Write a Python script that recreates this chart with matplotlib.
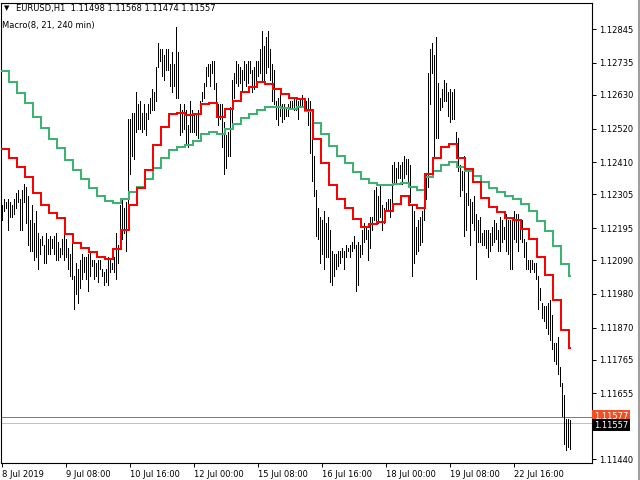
import numpy as np
import matplotlib
matplotlib.use("Agg")
import matplotlib.pyplot as plt
from matplotlib.transforms import blended_transform_factory

# ---------------- data ----------------
symbol = "EURUSD,H1"
last_ohlc = ["1.11498", "1.11568", "1.11474", "1.11557"]
indicator_name = "Macro(8, 21, 240 min)"
base_price = 1.1100          # price = base_price + pips / 10000

# hourly bars (high / low in pips above base_price)
high_pips = [127,129,128,129,128,127,129,131,132,129,132,134,133,130,122,127,121,125,118,116,
             117,114,118,116,117,116,117,118,115,113,116,118,116,113,111,116,104,108,106,109,
             111,110,110,111,112,109,109,108,109,109,106,105,106,110,
             109,108,110,118,114,127,129,126,128,155,155,157,157,164,160,161,157,160,157,160,
             162,165,164,172,180,178,178,176,178,178,173,177,173,185,177,160,158,160,158,153,
             161,158,157,157,158,161,164,167,172,173,
             173,174,174,167,160,160,160,154,150,151,159,168,170,174,173,172,171,174,173,174,
             174,171,172,174,174,178,184,179,182,184,178,173,171,161,162,164,160,160,159,160,
             161,161,162,162,161,162,163,161,161,162,
             161,149,143,132,126,123,122,125,121,123,119,112,111,111,112,112,113,112,114,113,
             114,115,117,114,115,114,119,121,120,119,123,123,132,133,130,134,127,126,128,129,
             129,140,141,139,141,140,141,143,142,142,
             140,127,125,120,122,123,125,136,137,170,178,180,176,182,167,162,165,168,167,164,
             165,164,165,151,149,140,138,143,131,138,129,128,130,124,122,123,118,119,119,119,
             118,120,122,121,119,123,122,120,124,122,122,122,125,124,124,121,122,116,115,109,
             109,109,108,108,104,100,95,94,94,95,96,91,82,82,84,74,69,65,57,57,56.8]
low_pips = [122,125,126,119,123,123,124,126,128,119,119,128,121,114,112,112,109,110,106,111,
            114,108,108,111,111,113,111,109,109,110,111,109,110,106,104,103,93,98,95,100,
            103,105,103,99,104,107,103,104,102,106,104,101,102,101,
            105,106,105,103,108,114,116,118,112,120,137,143,142,151,152,152,151,152,150,155,
            157,158,158,161,172,174,169,168,171,171,166,164,166,162,162,150,151,152,147,146,
            151,151,151,150,149,158,161,162,166,169,
            166,170,165,160,153,155,146,137,139,143,143,152,162,167,166,167,164,168,166,167,
            170,164,165,167,169,170,168,168,170,172,168,161,160,155,153,156,154,155,156,156,
            159,159,158,158,155,159,159,158,158,153,
            144,135,130,117,116,108,111,106,110,110,102,101,104,106,107,108,110,106,110,112,
            110,112,113,99,101,110,111,115,116,109,113,119,122,122,121,123,119,121,125,125,
            123,127,134,134,136,136,134,136,137,135,
            128,104,108,111,112,114,115,122,129,133,160,170,143,149,149,158,159,161,161,156,
            154,155,155,146,138,130,132,117,119,127,114,121,119,103,115,115,114,114,113,110,
            112,114,115,116,112,112,115,116,112,111,106,106,116,115,112,116,115,110,106,106,
            105,106,105,103,93,96,90,89,87,85,83,80,76,75,72,68,58,49,47,48,47.4]

# 240-min step lines (one value per 4 hourly bars)
fast_pips = [145.2,142.3,139.6,136.1,130.9,127.1,124.4,122.9,117.5,114.6,113.1,111.7,110.0,109.3,
             112.7,118.9,127.1,132.5,138.5,146.7,152.4,156.8,157.0,156.5,156.7,159.9,
             160.3,155.9,158.4,161.0,163.9,165.7,167.1,166.6,165.0,163.3,162.1,161.7,157.9,
             148.6,140.6,133.6,129.0,126.0,122.4,120.0,120.7,121.6,125.1,127.5,130.0,
             127.1,126.2,137.1,142.5,146.1,146.9,142.3,138.8,134.4,129.3,
             126.5,124.7,122.9,122.0,119.1,115.9,110.2,104.2,96.1,86.1,80.5]
slow_pips = [170.9,167.3,163.7,160.3,155.9,152.3,148.6,145.8,141.8,138.5,135.6,132.7,130.1,128.2,
             127.8,128.9,131.4,132.9,135.6,139.1,142.5,145.0,145.9,146.7,147.8,150.2,
             151.0,150.1,151.7,153.4,155.3,156.8,158.1,158.9,158.9,158.7,158.5,158.9,157.6,
             153.9,150.1,146.4,143.1,140.6,137.9,135.4,134.3,133.4,133.6,134.0,134.3,
             132.8,132.0,136.1,138.2,140.1,141.0,139.6,138.2,136.6,134.4,
             132.7,131.4,130.0,129.0,127.3,125.2,121.9,118.7,113.7,107.8,104.0]
bars_per_step = 4

ask_price = 1.11577
bid_price = 1.11557

ytick_vals = [1.12845, 1.12735, 1.12630, 1.12520, 1.12410, 1.12305, 1.12195,
              1.12090, 1.11980, 1.11870, 1.11765, 1.11655, 1.11440]
xtick_labels = ["8 Jul 2019", "9 Jul 08:00", "10 Jul 16:00", "12 Jul 00:00",
                "15 Jul 08:00", "16 Jul 16:00", "18 Jul 00:00", "19 Jul 08:00",
                "22 Jul 16:00"]
hours_per_label = 32

# ---------------- derived ----------------
high = base_price + np.array(high_pips) / 1e4
low = base_price + np.array(low_pips) / 1e4
fast = base_price + np.array(fast_pips) / 1e4
slow = base_price + np.array(slow_pips) / 1e4
n = len(high)
xb = np.arange(n)

W, H = 640, 480
fig = plt.figure(figsize=(W / 100, H / 100), dpi=100)
fig.patch.set_facecolor("white")
ax = fig.add_axes([1 / W, (H - 463) / H, (592 - 1) / W, (463 - 3) / H])
ax.set_facecolor("white")

ax.set_xlim(-0.35, 295.15)
ax.set_ylim(1.114279, 1.129299)

# price lines (ask / bid)
ax.axhline(ask_price, color="#F04E23", lw=0.7, zorder=1)
ax.axhline(bid_price, color="#C0C0C0", lw=0.7, zorder=1)

# bars
ax.vlines(xb, low, high, colors="black", linewidth=0.55, antialiased=False, zorder=2)

# step lines
def step_line(vals, color):
    edges = np.arange(len(vals)) * bars_per_step - 0.5
    xs = np.append(edges, n - 1 + 0.3)
    ys = np.append(vals, vals[-1])
    ax.step(xs, ys, where="post", color=color, lw=1.44, antialiased=True, snap=True,
            solid_joinstyle="miter", zorder=3)

step_line(slow, "#3CB371")
step_line(fast, "#FF0000")

# axes frame
for s in ax.spines.values():
    s.set_color("black")
    s.set_linewidth(0.8)

fs = 6
ax.yaxis.tick_right()
ax.set_yticks(ytick_vals)
ax.set_yticklabels([f"{v:.5f}" for v in ytick_vals], fontsize=fs)
ax.tick_params(axis="y", direction="out", length=3, width=0.7, pad=2, colors="black")

xt = np.arange(len(xtick_labels)) * hours_per_label
ax.set_xticks(xt)
ax.set_xticklabels(xtick_labels, fontsize=fs)
ax.tick_params(axis="x", direction="out", length=3, width=0.7, pad=2, colors="black")
for lbl in ax.get_xticklabels():
    lbl.set_ha("left")

# price tags on the right scale
tr = blended_transform_factory(ax.transAxes, ax.transData)
ax.text(1.003, ask_price + 0.00003, f"{ask_price:.5f}", transform=tr, fontsize=fs,
        color="white", va="center", ha="left", clip_on=False,
        bbox=dict(boxstyle="square,pad=0.2", fc="#F04E23", ec="none"))
ax.text(1.003, bid_price - 0.00006, f"{bid_price:.5f}", transform=tr, fontsize=fs,
        color="white", va="center", ha="left", clip_on=False,
        bbox=dict(boxstyle="square,pad=0.2", fc="black", ec="none"))

# header texts
fig.text(4 / W, 1 - 8.5 / H, "\u25BC", fontsize=5, va="center", ha="left", color="black")
fig.text(16 / W, 1 - 8.5 / H, f"{symbol}  " + " ".join(last_ohlc), fontsize=fs,
         va="center", ha="left", color="black")
fig.text(2 / W, 1 - 25.5 / H, indicator_name, fontsize=fs, va="center", ha="left",
         color="black")

# window border on right
fig.add_artist(plt.Line2D([638.5 / W, 638.5 / W], [0, 1], color="#A0A0A0", lw=1.5,
                          transform=fig.transFigure))

fig.savefig("out.png", dpi=100, facecolor="white")
